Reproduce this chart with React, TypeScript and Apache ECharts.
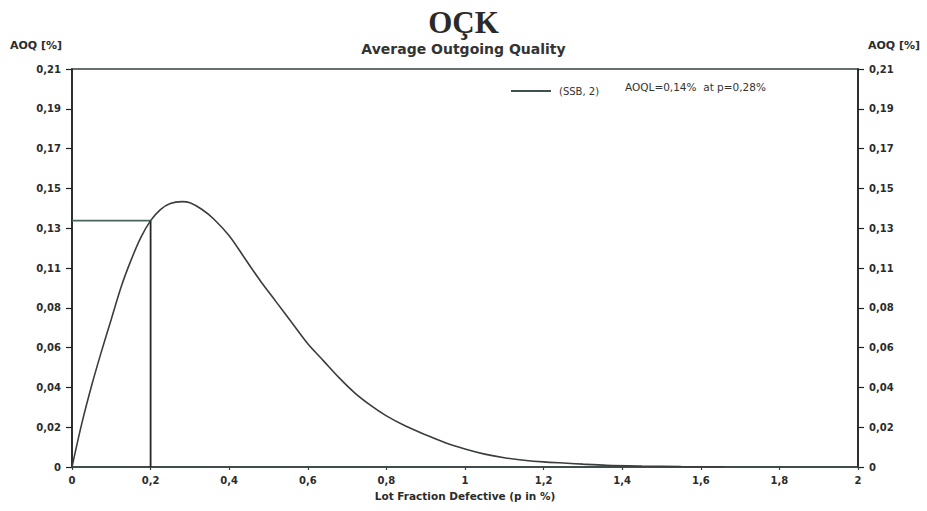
import React, { useEffect, useRef } from "react";
import * as echarts from "echarts";

// Lot fraction defective p (in %) and the average outgoing quality at each p (in %)
const pValues = [
  0, 0.025, 0.05, 0.075, 0.1, 0.125, 0.15, 0.175, 0.2, 0.225, 0.25, 0.28, 0.3,
  0.33, 0.36, 0.4, 0.44, 0.48, 0.52, 0.56, 0.6, 0.64, 0.68, 0.72, 0.76, 0.8,
  0.85, 0.9, 0.95, 1.0, 1.05, 1.1, 1.15, 1.2, 1.26, 1.3, 1.36, 1.45, 1.55, 1.66,
];
const aoqValues = [
  0, 0.023, 0.043, 0.061, 0.078, 0.095, 0.109, 0.121, 0.13, 0.1358, 0.139, 0.14,
  0.1394, 0.136, 0.131, 0.122, 0.11, 0.098, 0.087, 0.076, 0.065, 0.056, 0.047,
  0.039, 0.0325, 0.027, 0.0215, 0.017, 0.0128, 0.0095, 0.0068, 0.0049, 0.0036,
  0.0027, 0.002, 0.0015, 0.0009, 0.0005, 0.0002, 0.0001,
];

// Reference point marked on the curve
const refP = 0.2;
const refAOQ = 0.13;

const xTickLabels = ["0", "0,2", "0,4", "0,6", "0,8", "1", "1,2", "1,4", "1,6", "1,8", "2"];
const yTickLabels = ["0", "0,02", "0,04", "0,06", "0,08", "0,11", "0,13", "0,15", "0,17", "0,19", "0,21"];

const seriesName = "(SSB, 2)";
const aoqlNote = "AOQL=0,14%  at p=0,28%";

const X_STEP = 0.2;
const Y_STEP = 0.021;

const AXIS_COLOR = "#34423f";
const CURVE_COLOR = "#3a3d3c";
const LABEL_FONT = "'DejaVu Sans', 'Liberation Sans', sans-serif";

export default function App() {
  const ref = useRef<HTMLDivElement>(null);

  useEffect(() => {
    if (!ref.current) return;
    const chart = echarts.init(ref.current, undefined, { renderer: "svg" });

    const curve = pValues.map((p, i) => [p, aoqValues[i]]);

    const yLabel = (v: number) => yTickLabels[Math.round(v / Y_STEP)] ?? "";
    const labelStyle = {
      fontFamily: LABEL_FONT,
      fontWeight: "bold" as const,
      fontSize: 10,
      color: "#2b2b2b",
    };

    const yAxisBase = {
      type: "value" as const,
      min: 0,
      max: 0.21,
      interval: Y_STEP,
      splitLine: { show: false },
      axisLine: { show: true, lineStyle: { color: "#222", width: 1.6 } },
      axisTick: { show: true, length: 6, lineStyle: { color: "#222", width: 1.2 } },
      axisLabel: { ...labelStyle, margin: 11, formatter: yLabel },
    };

    chart.setOption({
      animation: false,
      backgroundColor: "#ffffff",
      title: {
        text: "OÇK",
        subtext: "Average Outgoing Quality",
        left: "center",
        top: 2,
        itemGap: 4,
        textStyle: {
          fontFamily: "'Liberation Serif', 'DejaVu Serif', serif",
          fontWeight: "bold",
          fontSize: 31,
          color: "#2a2a2a",
        },
        subtextStyle: {
          fontFamily: LABEL_FONT,
          fontWeight: "bold",
          fontSize: 14,
          color: "#333",
        },
      },
      legend: {
        data: [seriesName],
        left: 506,
        top: 81,
        icon: "rect",
        itemWidth: 40,
        itemHeight: 2,
        itemStyle: { color: "#3d524f" },
        textStyle: {
          fontFamily: LABEL_FONT,
          fontSize: 10,
          color: "#333",
          padding: [0, 0, 0, 3],
        },
      },
      grid: {
        left: 72,
        right: 69,
        top: 69,
        bottom: 44,
        show: true,
        borderColor: AXIS_COLOR,
        borderWidth: 1.6,
      },
      xAxis: {
        type: "value",
        min: 0,
        max: 2,
        interval: X_STEP,
        name: "Lot Fraction Defective (p in %)",
        nameLocation: "middle",
        nameGap: 23,
        nameTextStyle: {
          fontFamily: LABEL_FONT,
          fontWeight: "bold",
          fontSize: 10.5,
          color: "#2b2b2b",
          verticalAlign: "top",
        },
        splitLine: { show: false },
        axisLine: { show: true, lineStyle: { color: AXIS_COLOR, width: 1.6 } },
        axisTick: { show: true, length: 3, lineStyle: { color: AXIS_COLOR, width: 1.2 } },
        axisLabel: {
          ...labelStyle,
          margin: 8,
          formatter: (v: number) => xTickLabels[Math.round(v / X_STEP)] ?? "",
        },
      },
      yAxis: [
        { ...yAxisBase, position: "left" },
        { ...yAxisBase, position: "right" },
      ],
      graphic: [
        {
          type: "text",
          left: 10,
          top: 40,
          style: {
            text: "AOQ [%]",
            font: `bold 11px ${LABEL_FONT}`,
            fill: "#2b2b2b",
          },
        },
        {
          type: "text",
          left: 868,
          top: 40,
          style: {
            text: "AOQ [%]",
            font: `bold 11px ${LABEL_FONT}`,
            fill: "#2b2b2b",
          },
        },
        {
          type: "text",
          left: 625,
          top: 81,
          style: {
            text: aoqlNote,
            font: `10.5px ${LABEL_FONT}`,
            fill: "#333",
          },
        },
      ],
      series: [
        {
          name: seriesName,
          type: "line",
          data: curve,
          showSymbol: false,
          symbol: "none",
          smooth: 0.3,
          color: CURVE_COLOR,
          lineStyle: { color: CURVE_COLOR, width: 1.6 },
          z: 3,
        },
        {
          name: "ref-h",
          type: "line",
          data: [
            [0, refAOQ],
            [refP, refAOQ],
          ],
          symbol: "none",
          lineStyle: { color: "#4a6460", width: 1.8 },
          silent: true,
        },
        {
          name: "ref-v",
          type: "line",
          data: [
            [refP, 0],
            [refP, refAOQ],
          ],
          symbol: "none",
          lineStyle: { color: "#262626", width: 1.8 },
          silent: true,
        },
      ],
    });

    return () => chart.dispose();
  }, []);

  return (
    <div
      ref={ref}
      style={{ position: "fixed", left: 0, top: 0, width: 927, height: 511 }}
    />
  );
}
